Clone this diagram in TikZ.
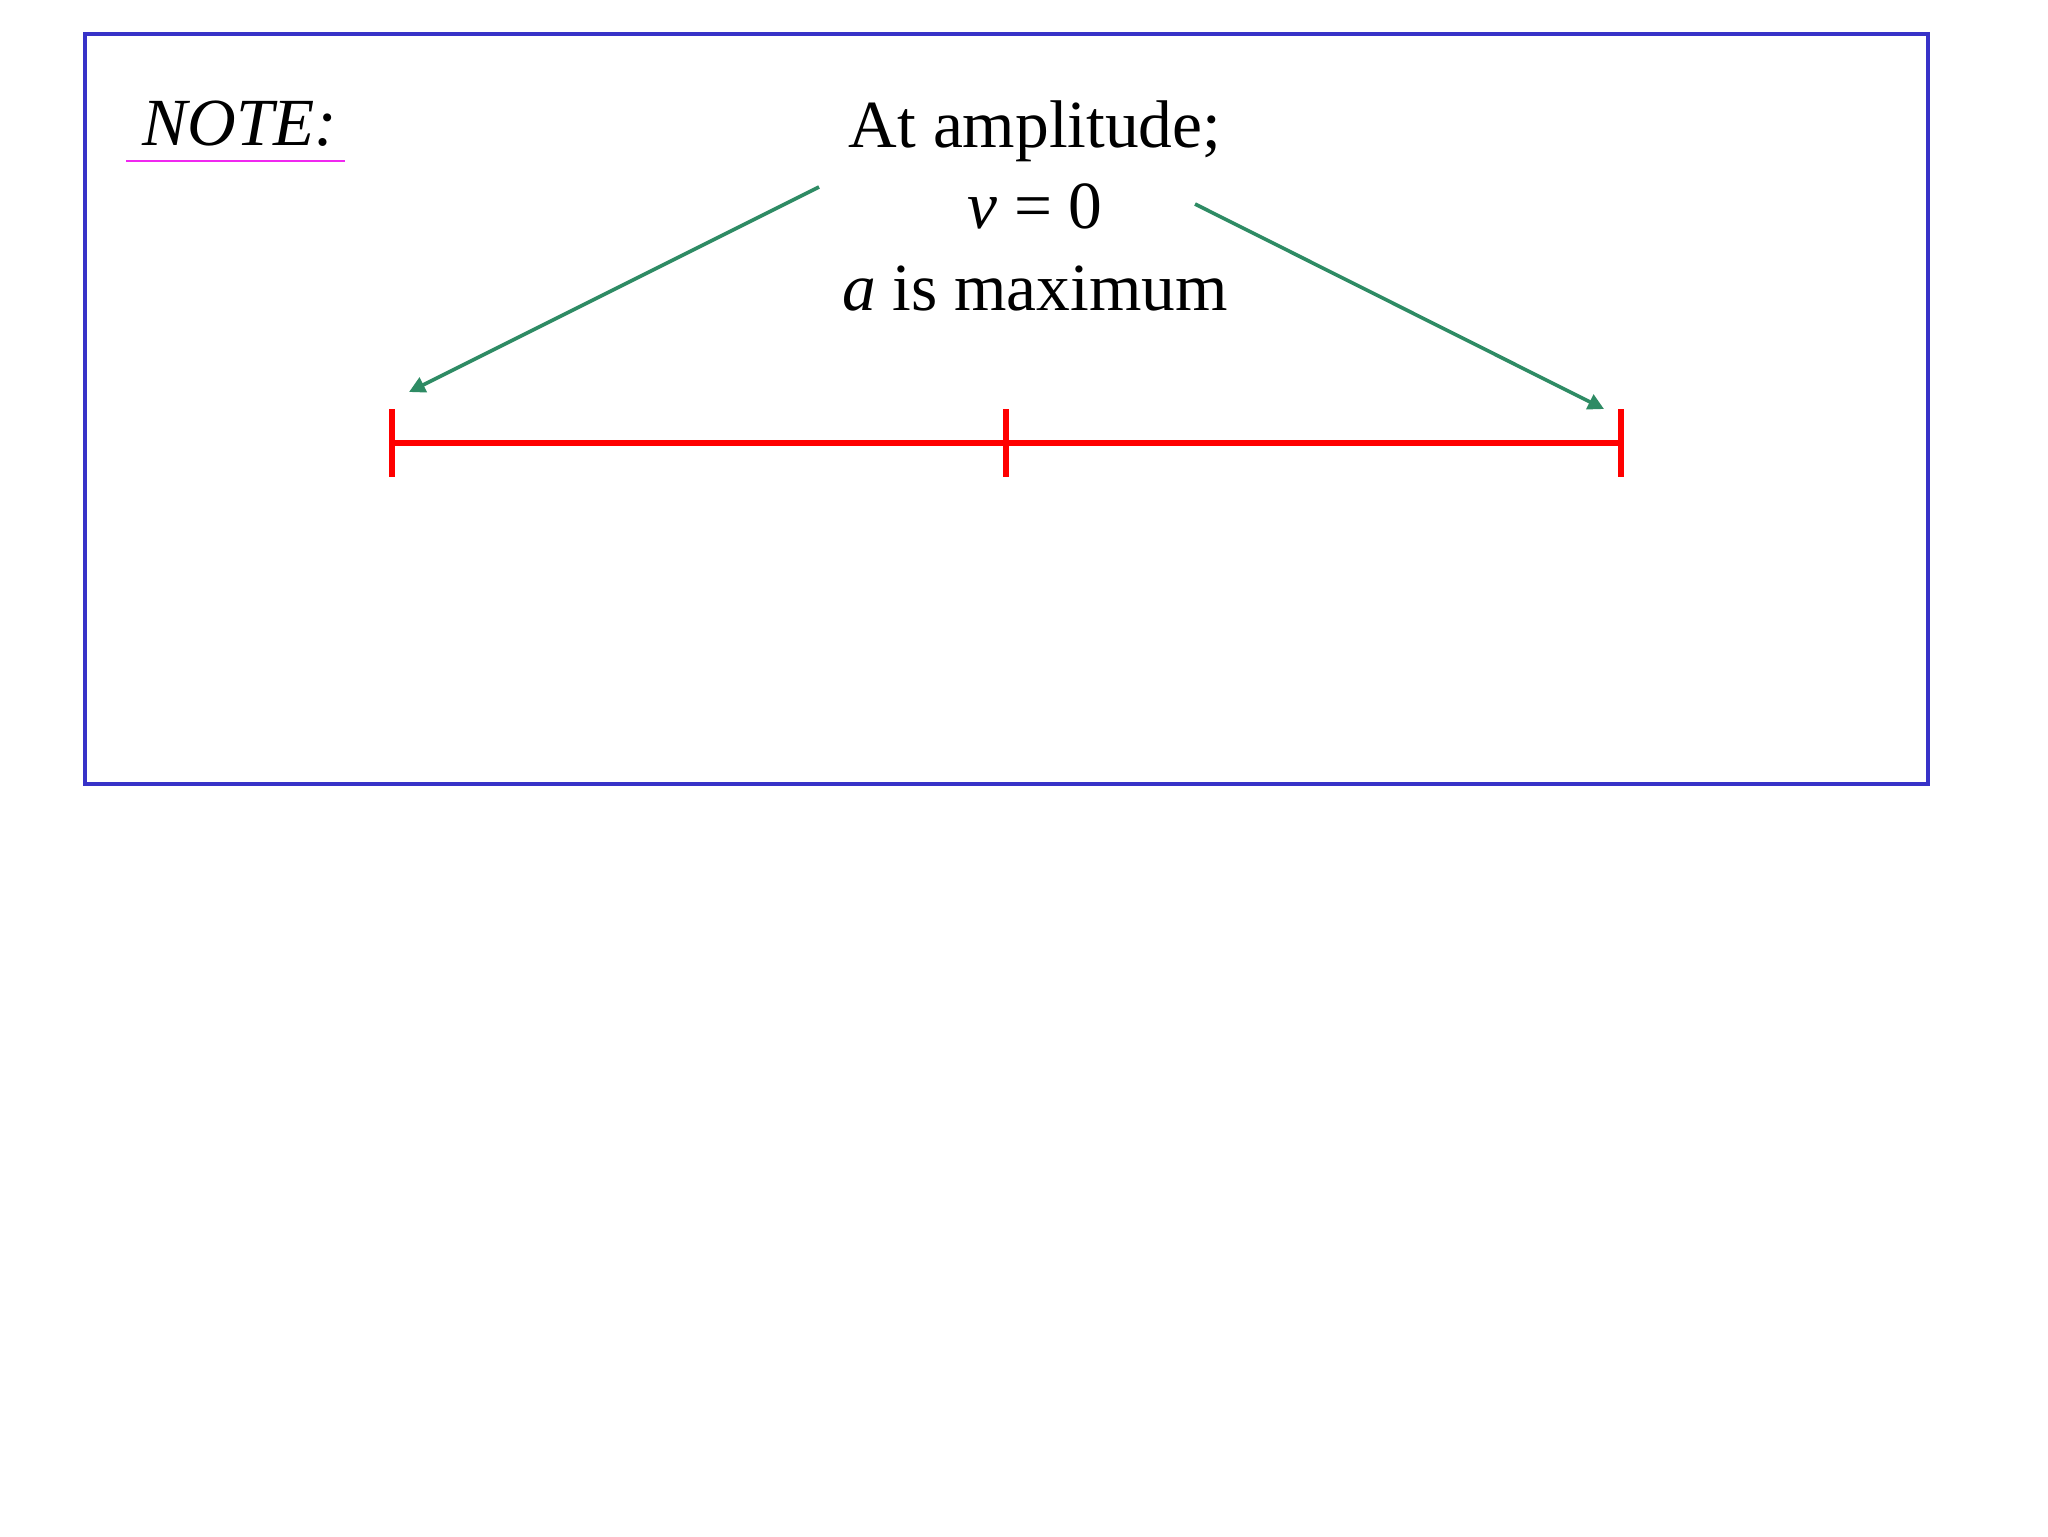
\documentclass[tikz,border=0pt]{standalone}
\usepackage{fontspec}
\setmainfont{Liberation Serif}
\usetikzlibrary{arrows.meta}
\definecolor{boxblue}{RGB}{55,50,200}
\definecolor{arrgreen}{RGB}{46,139,100}
\definecolor{ulmag}{RGB}{240,40,240}
\tikzset{
  frame/.style={draw=boxblue, line width=2bp},
  bar/.style={draw=red, line width=2.6bp},
  pointer/.style={draw=arrgreen, line width=1.8bp, -{Triangle[length=8bp,width=8bp]}},
  txt/.style={font=\fontsize{33.7bp}{40bp}\selectfont, inner sep=0pt, anchor=base},
}
\begin{document}
\begin{tikzpicture}[x=0.5bp,y=-0.5bp]
\useasboundingbox (0,0) rectangle (2048,1536);
\fill[white] (0,0) rectangle (2048,1536);
\draw[frame] (85,34) rectangle (1928,784);
% NOTE label
\node[txt, anchor=base west] (note) at (142,145) {\itshape NOTE:};
\draw[draw=ulmag, line width=0.9bp] (126,161) -- (345,161);
% text lines
\node[txt] (l1) at (1035,147) {At amplitude;};
\node[txt] (l2) at (1035,228) {\textit{v} = 0};
\node[txt] (l3) at (1035,310) {\textit{a} is maximum};
% ruler
\coordinate (pl) at (392,443);
\coordinate (pm) at (1006,443);
\coordinate (pr) at (1621,443);
\draw[bar] (pl) -- (pr);
\draw[bar] ([yshift=17bp]pl) -- ([yshift=-17bp]pl);
\draw[bar] ([yshift=17bp]pm) -- ([yshift=-17bp]pm);
\draw[bar] ([yshift=17bp]pr) -- ([yshift=-17bp]pr);
% arrows
\coordinate (a1s) at (819,187);
\coordinate (a1e) at (409,392);
\coordinate (a2s) at (1195,204);
\coordinate (a2e) at (1604,409);
\draw[pointer] (a1s) -- (a1e);
\draw[pointer] (a2s) -- (a2e);
\end{tikzpicture}
\end{document}
